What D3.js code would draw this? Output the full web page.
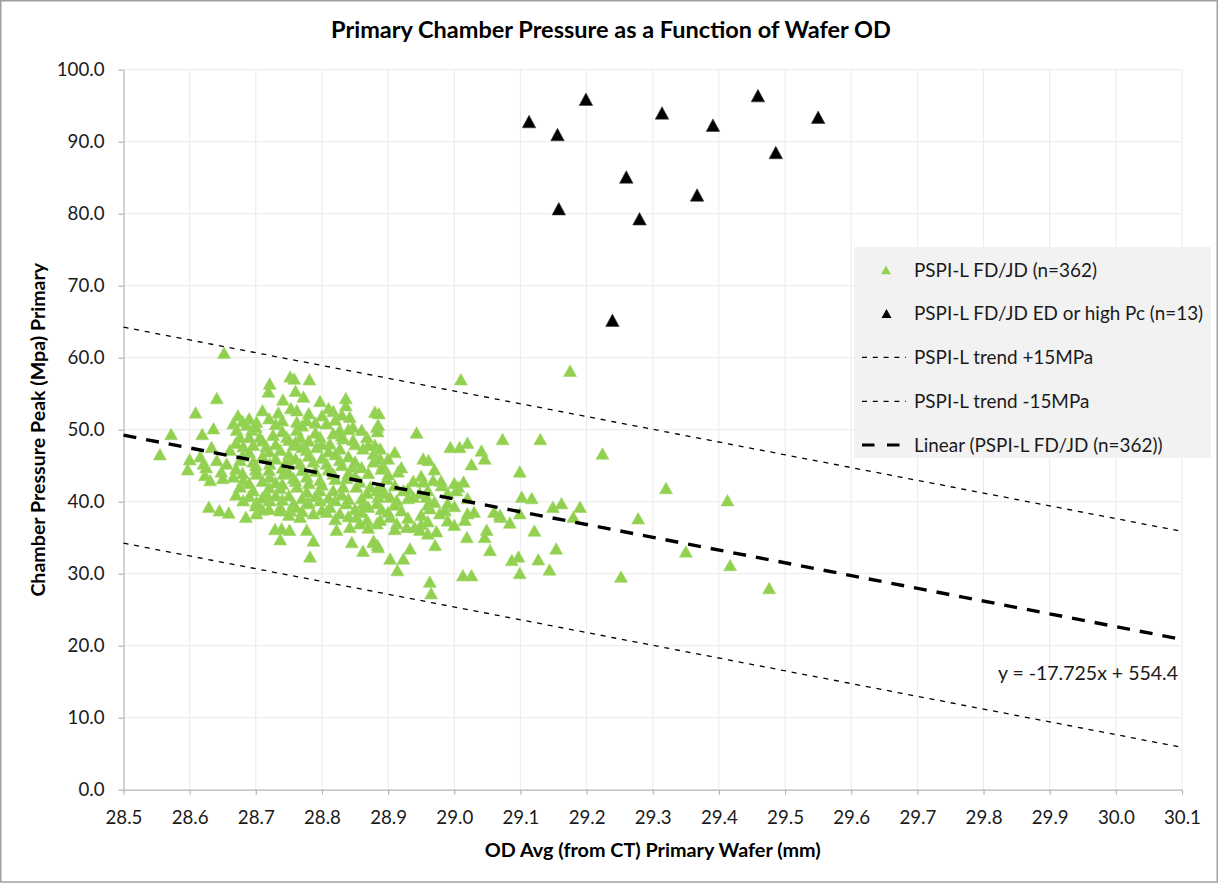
<!DOCTYPE html>
<html>
<head>
<meta charset="utf-8">
<script src="https://cdn.jsdelivr.net/npm/d3@7"></script>
<style>
  body { margin: 0; background: #fff; }
  svg { display: block; }
  text { font-family: Lato, "Open Sans", "Liberation Sans", sans-serif; }
</style>
</head>
<body>
<svg id="chart" width="1219" height="883"></svg>
<script>
// ---- data ----------------------------------------------------------------
const chartTitle = "Primary Chamber Pressure as a Function of Wafer OD";
const xAxisTitle = "OD Avg (from CT) Primary Wafer (mm)";
const yAxisTitle = "Chamber Pressure Peak (Mpa) Primary";

const xTickValues = [28.5, 28.6, 28.7, 28.8, 28.9, 29.0, 29.1, 29.2, 29.3, 29.4, 29.5, 29.6, 29.7, 29.8, 29.9, 30.0, 30.1];
const yTickValues = [0, 10, 20, 30, 40, 50, 60, 70, 80, 90, 100];

const seriesNames = [
  "PSPI-L FD/JD (n=362)",
  "PSPI-L FD/JD ED or high Pc (n=13)",
  "PSPI-L trend +15MPa",
  "PSPI-L trend -15MPa",
  "Linear (PSPI-L FD/JD (n=362))"
];

// [OD avg (mm), chamber pressure peak (MPa)]
const fdjdPoints = [
  [28.555,46.6],[28.572,49.4],[28.597,44.5],[28.600,45.9],[28.609,52.4],[28.616,46.3],[28.619,49.4],[28.621,45.3],
  [28.623,43.7],[28.625,44.8],[28.629,39.3],[28.631,43.0],[28.633,47.6],[28.636,50.2],[28.641,54.4],[28.641,45.8],
  [28.645,38.8],[28.648,44.2],[28.650,43.3],[28.652,60.7],[28.656,45.3],[28.659,38.5],[28.661,47.2],
  [28.666,50.9],[28.673,52.0],[28.690,51.6],[28.701,51.1],[28.686,50.7],[28.671,50.0],[28.694,50.0],[28.676,49.0],
  [28.706,49.0],[28.710,52.7],[28.721,56.4],[28.719,55.3],[28.681,47.7],[28.696,47.9],[28.716,47.7],[28.676,45.8],
  [28.696,45.6],[28.721,45.3],[28.666,43.5],[28.681,43.0],[28.701,43.9],[28.721,43.5],[28.676,42.1],[28.696,41.6],
  [28.716,41.2],[28.681,40.2],[28.701,40.0],[28.721,40.2],[28.685,37.9],[28.701,38.4],[28.726,49.3],
  [28.734,52.4],[28.741,54.2],[28.752,57.4],[28.753,53.0],[28.758,57.1],[28.762,52.7],[28.762,51.1],[28.777,51.3],
  [28.762,50.0],[28.747,49.0],[28.767,49.0],[28.797,49.0],[28.772,54.6],[28.781,57.0],[28.797,54.0],[28.737,47.2],
  [28.757,47.9],[28.777,47.2],[28.792,47.6],[28.747,45.8],[28.767,45.3],[28.787,45.6],[28.742,43.9],[28.757,43.3],
  [28.777,43.5],[28.797,43.0],[28.737,41.9],[28.762,42.1],[28.777,41.4],[28.797,41.6],[28.737,39.3],[28.757,39.8],
  [28.777,39.8],[28.797,40.2],[28.737,38.8],[28.752,38.8],[28.767,37.9],[28.787,38.4],[28.729,36.2],[28.739,36.3],
  [28.751,36.1],[28.777,36.1],[28.737,34.8],[28.787,34.6],[28.782,32.4],
  [28.807,50.9],[28.817,52.6],[28.836,54.4],[28.836,53.4],[28.842,51.8],[28.847,50.4],[28.827,50.0],[28.817,49.5],
  [28.832,48.8],[28.847,48.6],[28.868,49.0],[28.880,52.5],[28.883,50.4],[28.812,48.1],[28.827,47.4],[28.862,47.4],
  [28.878,46.7],[28.807,45.3],[28.827,45.8],[28.847,44.9],[28.878,45.6],[28.817,43.9],[28.837,43.3],[28.857,42.8],
  [28.873,42.1],[28.817,41.6],[28.832,42.1],[28.852,42.1],[28.868,41.2],[28.812,39.3],[28.837,39.8],[28.862,39.8],
  [28.807,38.6],[28.827,38.4],[28.852,37.9],[28.868,37.5],[28.822,36.1],[28.842,36.5],[28.857,37.0],[28.845,34.4],
  [28.862,33.2],[28.878,34.6],[28.884,34.0],
  [28.886,52.3],[28.885,50.7],[28.884,49.8],[28.880,47.9],[28.888,47.4],[28.910,46.9],[28.888,46.0],[28.892,45.1],
  [28.953,46.0],[28.961,45.8],[28.943,49.6],[28.994,47.6],[29.008,47.6],[29.020,48.2],[28.915,44.2],[28.898,43.2],
  [28.938,42.9],[28.953,42.8],[28.968,43.0],[28.981,42.3],[29.014,42.8],[29.006,42.1],[28.883,41.6],[28.885,40.7],
  [28.895,41.2],[28.903,40.7],[28.913,40.2],[28.923,41.6],[28.930,40.5],[28.938,40.7],[28.948,41.2],[28.958,40.7],
  [28.990,41.2],[29.003,41.6],[29.020,40.5],[28.963,39.1],[28.978,38.4],[28.986,38.8],[28.883,39.8],[28.883,37.0],
  [28.888,37.5],[28.903,37.9],[28.913,37.0],[28.928,36.5],[28.940,36.5],[28.948,36.1],[28.960,35.6],[28.973,35.9],
  [29.016,37.5],[29.020,38.4],[29.030,38.6],[28.878,34.4],[28.885,33.7],[28.933,33.5],[28.971,34.0],[29.019,35.1],
  [28.903,32.1],[28.923,32.1],[28.914,30.5],[28.963,28.9],[28.965,27.3],[29.013,29.8],[29.026,29.8],[29.010,57.0],
  [29.026,45.2],
  [29.041,47.1],[29.046,46.0],[29.073,48.7],[29.130,48.7],[29.224,46.7],[29.099,44.2],[29.320,41.9],[29.102,40.7],
  [29.117,40.5],[29.149,39.3],[29.162,39.8],[29.190,39.3],[29.278,37.7],[29.180,37.9],[29.060,38.6],[29.070,37.9],
  [29.069,38.2],[29.084,37.1],[29.099,38.4],[29.049,36.1],[29.046,35.1],[29.054,33.3],[29.121,36.0],[29.154,33.5],
  [29.087,31.9],[29.097,32.4],[29.127,32.0],[29.144,30.6],[29.099,30.1],[29.252,29.6],[29.175,58.2],[29.413,40.2],
  [29.350,33.1],[29.417,31.2],[29.476,28.0],
  [28.67,48.2],[28.67,44.6],[28.67,41.0],
  [28.68,51.2],[28.68,46.4],[28.68,44.0],
  [28.69,49.0],[28.69,46.9],[28.69,42.6],[28.69,40.8],
  [28.70,50.4],[28.70,45.1],[28.70,44.5],[28.70,39.5],
  [28.71,48.5],[28.71,46.3],[28.71,42.9],[28.71,40.6],[28.71,38.9],
  [28.72,51.6],[28.72,47.0],[28.72,44.4],[28.72,42.0],[28.72,39.0],
  [28.73,50.8],[28.73,48.0],[28.73,46.0],[28.73,42.7],[28.73,40.9],
  [28.74,51.3],[28.74,49.8],[28.74,44.7],[28.74,42.5],[28.74,40.3],
  [28.75,48.6],[28.75,46.6],[28.75,44.1],[28.75,40.9],[28.75,38.2],
  [28.76,55.4],[28.76,48.3],[28.76,46.0],[28.76,42.9],[28.76,39.3],
  [28.77,50.6],[28.77,47.6],[28.77,44.4],[28.77,40.5],[28.77,38.7],
  [28.78,52.3],[28.78,48.5],[28.78,46.4],[28.78,42.6],[28.78,39.9],
  [28.79,51.0],[28.79,49.6],[28.79,44.3],[28.79,40.8],
  [28.80,52.0],[28.80,48.0],[28.80,46.1],[28.80,42.4],[28.80,38.9],
  [28.81,53.0],[28.81,47.0],[28.81,44.5],[28.81,40.6],
  [28.82,51.4],[28.82,46.6],[28.82,43.2],[28.82,40.2],[28.82,37.6],
  [28.83,52.1],[28.83,49.2],[28.83,45.1],[28.83,41.0],
  [28.84,50.1],[28.84,46.3],[28.84,44.0],[28.84,40.4],[28.84,38.0],
  [28.85,48.0],[28.85,45.6],[28.85,43.6],[28.85,39.0],
  [28.86,50.0],[28.86,44.8],[28.86,40.5],[28.86,38.6],
  [28.87,47.9],[28.87,44.0],[28.87,39.3],[28.87,36.4],
  [28.89,44.6],[28.89,42.0],[28.89,39.0],
  [28.90,46.0],[28.90,43.8],[28.90,38.6],
  [28.91,42.3],[28.91,39.6],[28.91,36.2],
  [28.92,44.8],[28.92,38.8],
  [28.93,41.8],[28.93,37.8],
  [28.95,43.6],[28.95,38.2],[28.95,36.9],
  [28.96,41.6],[28.96,39.6],[28.96,37.3],
  [28.97,44.5],[28.97,40.0],
  [28.98,42.9],
  [28.99,39.8],[28.99,37.4],
  [29.00,42.6],[29.00,39.4],[29.00,36.8]
];

const highPcPoints = [
  [29.113,92.8],[29.156,91.0],[29.199,95.9],[29.314,94.0],[29.391,92.3],[29.459,96.4],[29.550,93.4],
  [29.486,88.5],[29.260,85.1],[29.367,82.6],[29.158,80.7],[29.280,79.3],[29.239,65.2]
];

// linear fit of the FD/JD series and the ±15 MPa bands around it
const trendSlope = -17.725;
const trendIntercept = 554.4;
const bandOffsets = [15, -15];
const equationLabel = "y = -17.725x + 554.4";

// ---- layout --------------------------------------------------------------
const W = 1219, H = 883;
const plot = { left: 123.5, right: 1182, top: 69.7, bottom: 789.7 };
const green = "#92d050";

const svg = d3.select("#chart");
svg.append("rect").attr("x", 0.75).attr("y", 0.75).attr("width", W - 2.5).attr("height", H - 1.75)
  .attr("fill", "#fff").attr("stroke", "#a0a0a0").attr("stroke-width", 1.5);

const x = d3.scaleLinear().domain([28.5, 30.1]).range([plot.left, plot.right]);
const y = d3.scaleLinear().domain([0, 100]).range([plot.bottom, plot.top]);

// gridlines
const grid = svg.append("g").attr("stroke", "#ebebeb").attr("stroke-width", 1);
grid.selectAll("line.v").data(xTickValues.slice(1)).join("line")
  .attr("x1", d => x(d)).attr("x2", d => x(d)).attr("y1", y(0)).attr("y2", y(100));
grid.selectAll("line.h").data(yTickValues.slice(1)).join("line")
  .attr("x1", x(28.5)).attr("x2", x(30.1)).attr("y1", d => y(d)).attr("y2", d => y(d));

// axes
const fmt = d3.format(".1f");
const yAxis = svg.append("g").attr("transform", `translate(${plot.left},0)`)
  .call(d3.axisLeft(y).tickValues(yTickValues).tickFormat(fmt).tickSize(5).tickSizeOuter(0).tickPadding(14));
const xAxis = svg.append("g").attr("transform", `translate(0,${plot.bottom})`)
  .call(d3.axisBottom(x).tickValues(xTickValues).tickFormat(fmt).tickSize(5).tickSizeOuter(0).tickPadding(16));
[xAxis, yAxis].forEach(a => {
  a.select(".domain").attr("stroke", "#b5b5b5").attr("stroke-width", 1.2);
  a.selectAll(".tick line").attr("stroke", "#b5b5b5").attr("stroke-width", 1.2);
  a.selectAll(".tick text").attr("fill", "#1a1a1a").attr("font-size", 18.7)
    .attr("font-family", "Lato, 'Open Sans', sans-serif");
});

// triangle marker path centred on its bounding box
const tri = (w, h) => `M0,${-h / 2}L${w / 2},${h / 2}L${-w / 2},${h / 2}Z`;

// scatter series
svg.append("g").selectAll("path").data(fdjdPoints).join("path")
  .attr("d", tri(13, 11.5))
  .attr("transform", d => `translate(${x(d[0])},${y(d[1])})`)
  .attr("fill", green).attr("stroke", "#9ed765").attr("stroke-width", 0.6);

svg.append("g").selectAll("path").data(highPcPoints).join("path")
  .attr("d", tri(13.5, 12.5))
  .attr("transform", d => `translate(${x(d[0])},${y(d[1])})`)
  .attr("fill", "#000").attr("stroke", "#3a3a3a").attr("stroke-width", 0.6);

// trend line and bands
const xDomain = x.domain();
const trendAt = (xv, off) => trendSlope * xv + trendIntercept + off;
const line = d3.line().x(d => x(d[0])).y(d => y(d[1]));

svg.append("g").selectAll("path").data(bandOffsets).join("path")
  .attr("d", off => line(xDomain.map(xv => [xv, trendAt(xv, off)])))
  .attr("fill", "none").attr("stroke", "#000").attr("stroke-width", 1.3)
  .attr("stroke-dasharray", "5,5.8");

svg.append("path")
  .attr("d", line(xDomain.map(xv => [xv, trendAt(xv, 0)])))
  .attr("fill", "none").attr("stroke", "#000").attr("stroke-width", 3.4)
  .attr("stroke-dasharray", "13,10");

svg.append("text").attr("x", 1178).attr("y", 679.5).attr("text-anchor", "end")
  .attr("font-size", 19.5).attr("fill", "#1a1a1a").text(equationLabel);

// legend
const lg = svg.append("g");
lg.append("rect").attr("x", 854).attr("y", 247).attr("width", 357).attr("height", 211).attr("fill", "#f2f2f2");
const rowY = [270, 313.5, 357.3, 401.3, 445];
const items = lg.selectAll("g.item").data(seriesNames).join("g")
  .attr("transform", (d, i) => `translate(0,${rowY[i]})`);
items.append("text").attr("x", 914).attr("y", 0).attr("dy", "0.35em")
  .attr("font-size", 18.9).attr("fill", "#1a1a1a").text(d => d);
items.filter((d, i) => i === 0).append("path").attr("d", tri(10, 8.5))
  .attr("transform", "translate(886,0)").attr("fill", green);
items.filter((d, i) => i === 1).append("path").attr("d", tri(10, 9))
  .attr("transform", "translate(886.5,0)").attr("fill", "#000");
items.filter((d, i) => i === 2 || i === 3).append("line")
  .attr("x1", 862).attr("x2", 906).attr("stroke", "#000").attr("stroke-width", 1.3)
  .attr("stroke-dasharray", "5,5.8");
items.filter((d, i) => i === 4).append("line")
  .attr("x1", 862).attr("x2", 900).attr("stroke", "#000").attr("stroke-width", 3.2)
  .attr("stroke-dasharray", "12.5,12.5");

// titles
svg.append("text").attr("x", 611).attr("y", 38).attr("text-anchor", "middle")
  .attr("font-size", 23.5).attr("font-weight", "bold").attr("fill", "#000").text(chartTitle);
svg.append("text").attr("x", (plot.left + plot.right) / 2).attr("y", 857).attr("text-anchor", "middle")
  .attr("font-size", 19.8).attr("font-weight", "bold").attr("fill", "#000").text(xAxisTitle);
svg.append("text").attr("transform", `translate(45,${(plot.top + plot.bottom) / 2}) rotate(-90)`)
  .attr("text-anchor", "middle").attr("font-size", 19.6).attr("font-weight", "bold").attr("fill", "#000")
  .text(yAxisTitle);
</script>
</body>
</html>
